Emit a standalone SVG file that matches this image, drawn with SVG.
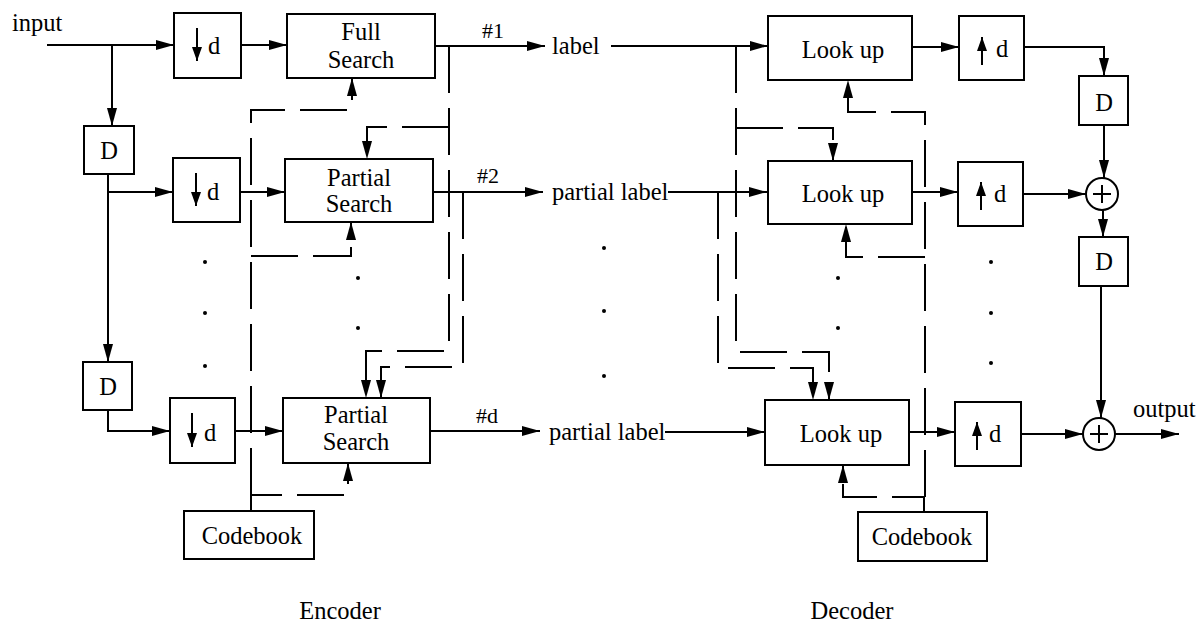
<svg xmlns="http://www.w3.org/2000/svg" width="1204" height="626" viewBox="0 0 1204 626">
<style>
  .box{fill:#fff;stroke:#000;stroke-width:2}
  .ln{fill:none;stroke:#000;stroke-width:2}
  .da{fill:none;stroke:#000;stroke-width:2;stroke-dasharray:47 15}
  .t{font-family:"Liberation Serif","Times New Roman",serif;font-size:24.5px;fill:#000}
  .c{text-anchor:middle}
  .dot{fill:#000}
</style>
<defs>
  <marker id="ah" markerUnits="userSpaceOnUse" markerWidth="20" markerHeight="12" refX="18" refY="5" orient="auto">
    <path d="M0,0 L18,5 L0,10 z" fill="#000"/>
  </marker>
  <marker id="ahs" markerUnits="userSpaceOnUse" markerWidth="16" markerHeight="12" refX="14" refY="5" orient="auto">
    <path d="M0,0 L14,5 L0,10 z" fill="#000"/>
  </marker>
</defs>
<rect width="1204" height="626" fill="#fff"/>

<g id="connectors">
  <!-- encoder solid -->
  <path class="ln" d="M47,45 H174" marker-end="url(#ah)"/>
  <path class="ln" d="M112,45 V126" marker-end="url(#ah)"/>
  <path class="ln" d="M241,45 H287" marker-end="url(#ah)"/>
  <path class="ln" d="M435,46 H545" marker-end="url(#ah)"/>
  <path class="ln" d="M611,46 H768" marker-end="url(#ah)"/>
  <path class="ln" d="M108,174 V362" marker-end="url(#ah)"/>
  <path class="ln" d="M108,192 H173" marker-end="url(#ah)"/>
  <path class="ln" d="M240,192 H285" marker-end="url(#ah)"/>
  <path class="ln" d="M433,192 H543" marker-end="url(#ah)"/>
  <path class="ln" d="M668,192 H767" marker-end="url(#ah)"/>
  <path class="ln" d="M108,410 V431 H170" marker-end="url(#ah)"/>
  <path class="ln" d="M235,431 H283" marker-end="url(#ah)"/>
  <path class="ln" d="M430,431 H540" marker-end="url(#ah)"/>
  <path class="ln" d="M665,432 H765" marker-end="url(#ah)"/>
  <!-- encoder dashed -->
  <path class="da" d="M449,46 V351 H366 V398" marker-end="url(#ah)"/>
  <path class="da" d="M449,127 H367 V159" marker-end="url(#ah)"/>
  <path class="da" d="M463,192 V367 H381 V398" marker-end="url(#ah)"/>
  <path class="da" d="M251,511 V495 H348 V463" marker-end="url(#ah)"/>
  <path class="da" d="M251,495 V110 H352 V78" marker-end="url(#ah)"/>
  <path class="da" d="M251,256 H351 V222" marker-end="url(#ah)"/>
  <!-- decoder solid -->
  <path class="ln" d="M912,47 H959" marker-end="url(#ah)"/>
  <path class="ln" d="M1024,47 H1104 V76" marker-end="url(#ah)"/>
  <path class="ln" d="M1104,125 V178" marker-end="url(#ah)"/>
  <path class="ln" d="M1103,210 V237" marker-end="url(#ah)"/>
  <path class="ln" d="M912,192 H958" marker-end="url(#ah)"/>
  <path class="ln" d="M1023,194 H1086" marker-end="url(#ah)"/>
  <path class="ln" d="M1101,286 V418" marker-end="url(#ah)"/>
  <path class="ln" d="M909,432 H955" marker-end="url(#ah)"/>
  <path class="ln" d="M1021,434 H1083" marker-end="url(#ah)"/>
  <path class="ln" d="M1115,434 H1179" marker-end="url(#ah)"/>
  <!-- decoder dashed -->
  <path class="da" d="M736,46 V352 H829 V400" marker-end="url(#ah)"/>
  <path class="da" d="M736,128 H833 V161" marker-end="url(#ah)"/>
  <path class="da" d="M718,192 V368 H813 V400" marker-end="url(#ah)"/>
  <path class="da" d="M924,512 V497 H843 V465" marker-end="url(#ah)"/>
  <path class="da" d="M925,497 V112 H848 V80" marker-end="url(#ah)"/>
  <path class="da" d="M925,257 H846 V224" marker-end="url(#ah)"/>
</g>

<g id="labels">
  <text class="t" x="12" y="31">input</text>
  <text class="t c" x="493" y="38" style="font-size:22px">#1</text>
  <text class="t" x="552" y="54">label</text>
  <text class="t c" x="488" y="183" style="font-size:22px">#2</text>
  <text class="t" x="552" y="200">partial label</text>
  <text class="t c" x="487" y="423" style="font-size:22px">#d</text>
  <text class="t" x="549" y="440">partial label</text>
  <text class="t" x="1133" y="417">output</text>
  <text class="t c" x="340" y="619">Encoder</text>
  <text class="t c" x="852" y="619">Decoder</text>
</g>

<g id="dots">
  <circle class="dot" cx="205" cy="262" r="2"/>
  <circle class="dot" cx="205" cy="313" r="2"/>
  <circle class="dot" cx="205" cy="366" r="2"/>
  <circle class="dot" cx="358" cy="278" r="2"/>
  <circle class="dot" cx="358" cy="328" r="2"/>
  <circle class="dot" cx="604" cy="248" r="2"/>
  <circle class="dot" cx="604" cy="311" r="2"/>
  <circle class="dot" cx="604" cy="376" r="2"/>
  <circle class="dot" cx="838" cy="278" r="2"/>
  <circle class="dot" cx="838" cy="328" r="2"/>
  <circle class="dot" cx="991" cy="262" r="2"/>
  <circle class="dot" cx="991" cy="313" r="2"/>
  <circle class="dot" cx="991" cy="363" r="2"/>
</g>

<!-- Encoder nodes -->
<g id="enc-d1"><rect class="box" x="84" y="126" width="50" height="48"/><text class="t c" x="109" y="159">D</text></g>
<g id="enc-d3"><rect class="box" x="83" y="362" width="49" height="48"/><text class="t c" x="108" y="395">D</text></g>
<g id="enc-down1"><rect class="box" x="174" y="13" width="67" height="65"/><path class="ln" d="M197,28 V61" marker-end="url(#ahs)"/><text class="t c" x="214" y="54">d</text></g>
<g id="enc-down2"><rect class="box" x="173" y="158" width="67" height="64"/><path class="ln" d="M196,173 V206" marker-end="url(#ahs)"/><text class="t c" x="213" y="200">d</text></g>
<g id="enc-down3"><rect class="box" x="170" y="398" width="65" height="65"/><path class="ln" d="M192,413 V447" marker-end="url(#ahs)"/><text class="t c" x="210" y="441">d</text></g>
<g id="enc-full"><rect class="box" x="287" y="14" width="148" height="64"/><text class="t c" x="361" y="40">Full</text><text class="t c" x="361" y="68">Search</text></g>
<g id="enc-partial2"><rect class="box" x="285" y="159" width="148" height="63"/><text class="t c" x="359" y="186">Partial</text><text class="t c" x="359" y="212">Search</text></g>
<g id="enc-partial3"><rect class="box" x="283" y="398" width="147" height="65"/><text class="t c" x="356" y="423">Partial</text><text class="t c" x="356" y="450">Search</text></g>
<g id="enc-codebook"><rect class="box" x="184" y="511" width="130" height="48"/><text class="t c" x="252" y="544">Codebook</text></g>

<!-- Decoder nodes -->
<g id="dec-look1"><rect class="box" x="768" y="16" width="144" height="64"/><text class="t c" x="843" y="58">Look up</text></g>
<g id="dec-look2"><rect class="box" x="768" y="161" width="144" height="63"/><text class="t c" x="843" y="202">Look up</text></g>
<g id="dec-look3"><rect class="box" x="765" y="400" width="144" height="65"/><text class="t c" x="841" y="442">Look up</text></g>
<g id="dec-up1"><rect class="box" x="959" y="16" width="65" height="64"/><path class="ln" d="M982,65 V37" marker-end="url(#ahs)"/><text class="t c" x="1002" y="57">d</text></g>
<g id="dec-up2"><rect class="box" x="958" y="162" width="65" height="64"/><path class="ln" d="M981,210 V182" marker-end="url(#ahs)"/><text class="t c" x="1000" y="202">d</text></g>
<g id="dec-up3"><rect class="box" x="955" y="402" width="66" height="64"/><path class="ln" d="M977,450 V422" marker-end="url(#ahs)"/><text class="t c" x="995" y="442">d</text></g>
<g id="dec-d1"><rect class="box" x="1079" y="76" width="49" height="49"/><text class="t c" x="1104" y="111">D</text></g>
<g id="dec-d2"><rect class="box" x="1079" y="237" width="49" height="49"/><text class="t c" x="1104" y="270">D</text></g>
<g id="dec-sum1"><circle class="box" cx="1102" cy="194" r="16"/><path class="ln" d="M1093,194 H1111 M1102,185 V203"/></g>
<g id="dec-sum2"><circle class="box" cx="1099" cy="434" r="16"/><path class="ln" d="M1090,434 H1108 M1099,425 V443"/></g>
<g id="dec-codebook"><rect class="box" x="858" y="512" width="129" height="49"/><text class="t c" x="922" y="545">Codebook</text></g>
</svg>
